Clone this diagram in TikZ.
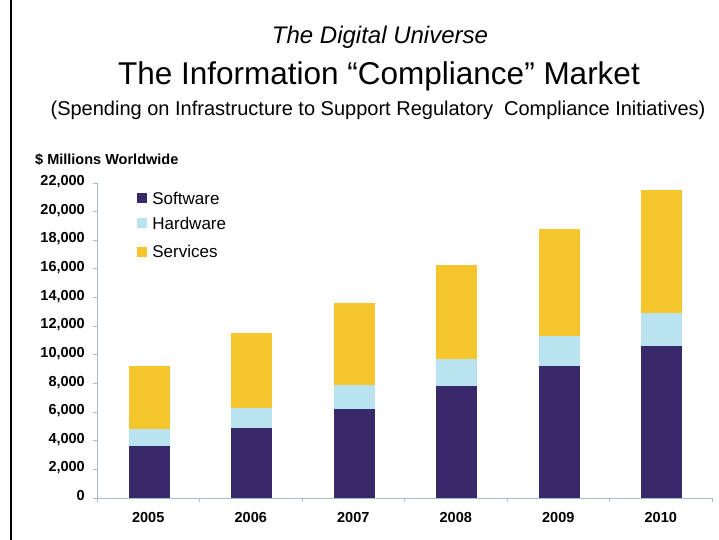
\documentclass[tikz,border=0pt]{standalone}
\usepackage{fontspec}
\setmainfont{Liberation Sans}
\usetikzlibrary{positioning}

\definecolor{softw}{HTML}{38296B}
\definecolor{hardw}{HTML}{B9E3EF}
\definecolor{servc}{HTML}{F5C52E}
\definecolor{axisgray}{HTML}{A8BCCB}

\begin{document}
\begin{tikzpicture}[x=1bp,y=1bp,
    axis/.style={draw=axisgray,line width=0.9bp},
    ticklab/.style={font=\fontsize{14.5bp}{17bp}\selectfont\bfseries,anchor=mid east,inner sep=0pt},
    yearlab/.style={font=\fontsize{14.5bp}{17bp}\selectfont\bfseries,anchor=mid,inner sep=0pt},
    legsq/.style={minimum size=10bp,inner sep=0pt,draw=none},
    legtxt/.style={font=\fontsize{17bp}{20bp}\selectfont,inner sep=0pt}]
	\useasboundingbox (0,0) rectangle (719,540);
	\fill[white] (0,0) rectangle (719,540);
	\draw[line width=2bp] (11,0) -- (11,540);

	% titles
	\node[font=\fontsize{24bp}{28bp}\selectfont\itshape,anchor=base] (title) at (380,496) {The Digital Universe};
	\node[font=\fontsize{31.5bp}{36bp}\selectfont,anchor=base] (maintitle) at (379,455) {The Information “Compliance” Market};
	\node[font=\fontsize{20bp}{24bp}\selectfont,anchor=base] (subtitle) at (378,424) {(Spending on Infrastructure to Support Regulatory\ \ Compliance Initiatives)};
	\node[font=\fontsize{14.5bp}{17bp}\selectfont\bfseries,anchor=base west,inner sep=0pt] (unit) at (35,375) {\$ Millions Worldwide};

	% plot area: one unit = one year along x, 1000 along y
	\begin{scope}[shift={(97,42)},x=102.5bp,y=14.318bp]
		\foreach \k/\yr/\s/\h/\t in {0/2005/3.6/4.8/9.2,1/2006/4.9/6.3/11.5,2/2007/6.2/7.9/13.6,
				3/2008/7.8/9.7/16.3,4/2009/9.2/11.3/18.8,5/2010/10.6/12.9/21.5}{
			\fill[softw] (\k+0.31,0) rectangle (\k+0.71,\s);
			\fill[hardw] (\k+0.31,\s) rectangle (\k+0.71,\h);
			\fill[servc] (\k+0.31,\h) rectangle (\k+0.71,\t);
			\node[yearlab] (x_\yr) at ([yshift=-22bp]\k+0.5,0) {\yr};
		}
		\draw[axis] (0,0) -- (0,22);
		\draw[axis] (0,0) -- (6,0);
		\foreach \v/\lab in {0/0,2/{2,000},4/{4,000},6/{6,000},8/{8,000},10/{10,000},
				12/{12,000},14/{14,000},16/{16,000},18/{18,000},20/{20,000},22/{22,000}}{
			\draw[axis] (0,\v) -- ++(-4bp,0);
			\node[ticklab] (y_\v) at ([xshift=-12bp]0,\v) {\lab};
		}
		\foreach \k in {0,...,6}
			\draw[axis] (\k,0) -- ++(0,-4bp);
	\end{scope}

	% legend
	\node[legsq,fill=softw] (sq_0) at (142,342) {};
	\node[legsq,fill=hardw,below=15bp of sq_0] (sq_1) {};
	\node[legsq,fill=servc,below=18bp of sq_1] (sq_2) {};
	\node[legtxt,right=5bp of sq_0] (leg_0) {Software};
	\node[legtxt,right=5bp of sq_1] (leg_1) {Hardware};
	\node[legtxt,right=5bp of sq_2] (leg_2) {Services};
\end{tikzpicture}
\end{document}
